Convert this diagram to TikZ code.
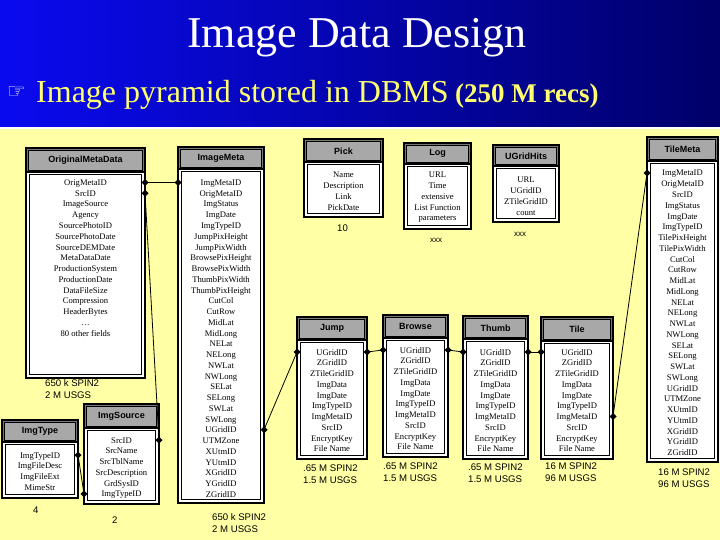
\documentclass[tikz,border=0pt]{standalone}
\usepackage{fontspec}
\setmainfont{Liberation Serif}
\newfontfamily\arialf{Liberation Sans}
\newfontfamily\dejavuf{DejaVu Sans}
\definecolor{hdrL}{RGB}{10,10,240}
\definecolor{hdrR}{RGB}{0,0,105}
\definecolor{bgyellow}{RGB}{255,255,165}
\definecolor{subyellow}{RGB}{255,255,110}
\definecolor{handcol}{RGB}{240,240,230}
\definecolor{titlegray}{RGB}{168,168,168}
\definecolor{framegray}{RGB}{120,120,120}
\tikzset{
  fieldtxt/.style={font=\fontsize{8.6}{10}\selectfont, inner sep=0pt, anchor=base},
  titletxt/.style={font=\arialf\bfseries\fontsize{9}{10}\selectfont, inner sep=0pt},
  cnttxt/.style={font=\arialf\fontsize{9.6}{12}\selectfont, inner sep=0pt, align=left, anchor=west},
  connline/.style={line width=0.8pt, black},
}
\newcommand\connmark[1]{\fill[shift={(#1)}] (-3.5,0) -- (0,-3.5) -- (3.5,0) -- (0,3.5) -- cycle;}
\newcommand\conn[2]{\draw[connline] (#1) -- (#2); \connmark{#1} \connmark{#2}}
% #1 name, #2 x1, #3 y1, #4 x2, #5 title bottom, #6 y2, #7 title, #8 first field y, #9 fields
\newcommand\dbtable[9]{%
  \fill[framegray] (#2,#3) rectangle (#4,#5);
  \draw[fill=titlegray, line width=0.6pt] (#2+2.5,#3+2.5) rectangle (#4-2.5,#5-2);
  \node[titletxt] (#1-title) at ({(#2+#4)/2},{(#3+#5)/2+0.3}) {#7};
  \draw[fill=white, line width=1.3pt] (#2+0.7,#5) rectangle (#4-0.7,#6-0.7);
  \draw[line width=0.45pt] (#2+3.3,#5+2.6) rectangle (#4-3.3,#6-3.3);
  \draw[line width=1.4pt] (#2,#3) rectangle (#4,#6);
  \foreach \f [count=\i] in {#9} {
    \node[fieldtxt] (#1-f\i) at ({(#2+#4)/2},{#8+(\i-1)*10.75+3}) {\f};
    \coordinate (#1-L\i) at (#2,{#8+(\i-1)*10.75});
    \coordinate (#1-R\i) at (#4,{#8+(\i-1)*10.75});
  }
}
\begin{document}
\begin{tikzpicture}[x=1pt,y=-1pt]
\useasboundingbox (0,0) rectangle (720,540);
% header
\shade[left color=hdrL, right color=hdrR] (0,0) rectangle (720,127);
\fill[bgyellow] (0,127) rectangle (720,540);
\draw[white, line width=1.2pt] (0,128) -- (720,128);
\node[text=white, font=\fontsize{44}{44}\selectfont, inner sep=0pt, anchor=base] (title) at (357,48) {Image Data Design};
\node[text=handcol, font=\dejavuf\fontsize{21}{21}\selectfont, inner sep=0pt, anchor=base west] (hand) at (7,99) {☞};
\node[text=subyellow, font=\fontsize{32}{32}\selectfont, inner sep=0pt, anchor=base west] (sub) at (36,103) {Image pyramid stored in DBMS};
\node[text=subyellow, font=\bfseries\fontsize{27}{27}\selectfont, inner sep=0pt, anchor=base west] (recs) at (455,103) {(250 M recs)};

% tables
\dbtable{om}{26}{148}{145}{172}{378}{OriginalMetaData}{182.5}{OrigMetaID,SrcID,ImageSource,Agency,SourcePhotoID,SourcePhotoDate,SourceDEMDate,MetaDataDate,ProductionSystem,ProductionDate,DataFileSize,Compression,HeaderBytes,\dots,80 other fields}
\dbtable{im}{178}{147}{264}{169}{503}{ImageMeta}{182.5}{ImgMetaID,OrigMetaID,ImgStatus,ImgDate,ImgTypeID,JumpPixHeight,JumpPixWidth,BrowsePixHeight,BrowsePixWidth,ThumbPixWidth,ThumbPixHeight,CutCol,CutRow,MidLat,MidLong,NELat,NELong,NWLat,NWLong,SELat,SELong,SWLat,SWLong,UGridID,UTMZone,XUtmID,YUtmID,XGridID,YGridID,ZGridID}
\dbtable{pick}{304}{139}{383}{162}{217}{Pick}{175}{Name,Description,Link,PickDate}
\dbtable{log}{404}{143}{471}{164}{229}{Log}{175}{URL,Time,extensive,List Function,parameters}
\dbtable{ugh}{493}{145}{559}{166}{222}{UGridHits}{180}{URL,UGridID,ZTileGridID,count}
\dbtable{tm}{647}{137}{718}{161}{462}{TileMeta}{173}{ImgMetaID,OrigMetaID,SrcID,ImgStatus,ImgDate,ImgTypeID,TilePixHeight,TilePixWidth,CutCol,CutRow,MidLat,MidLong,NELat,NELong,NWLat,NWLong,SELat,SELong,SWLat,SWLong,UGridID,UTMZone,XUtmID,YUtmID,XGridID,YGridID,ZGridID}
\dbtable{jump}{297}{317}{367}{340}{459}{Jump}{352}{UGridID,ZGridID,ZTileGridID,ImgData,ImgDate,ImgTypeID,ImgMetaID,SrcID,EncryptKey,File Name}
\dbtable{browse}{383}{315}{448}{338}{457}{Browse}{350}{UGridID,ZGridID,ZTileGridID,ImgData,ImgDate,ImgTypeID,ImgMetaID,SrcID,EncryptKey,File Name}
\dbtable{thumb}{463}{316}{528}{339}{459}{Thumb}{352}{UGridID,ZGridID,ZTileGridID,ImgData,ImgDate,ImgTypeID,ImgMetaID,SrcID,EncryptKey,File Name}
\dbtable{tile}{541}{317}{613}{341}{459}{Tile}{352}{UGridID,ZGridID,ZTileGridID,ImgData,ImgDate,ImgTypeID,ImgMetaID,SrcID,EncryptKey,File Name}
\dbtable{isrc}{84}{404}{159}{428}{504}{ImgSource}{440}{SrcID,SrcName,SrcTblName,SrcDescription,GrdSysID,ImgTypeID}
\dbtable{itype}{2}{420}{78}{442}{498}{ImgType}{455}{ImgTypeID,ImgFileDesc,ImgFileExt,MimeStr}

% counts
\node[cnttxt] (c-om) at (45,389) {650 k SPIN2\\2 M USGS};
\node[cnttxt] (c-im) at (212,523) {650 k SPIN2\\2 M USGS};
\node[cnttxt] (c-pick) at (337,228) {10};
\node[cnttxt, font=\arialf\fontsize{8}{9}\selectfont] (c-log) at (430,240) {xxx};
\node[cnttxt, font=\arialf\fontsize{8}{9}\selectfont] (c-ugh) at (514,234) {xxx};
\node[cnttxt] (c-jump) at (303,474) {.65 M SPIN2\\1.5 M USGS};
\node[cnttxt] (c-browse) at (383,472) {.65 M SPIN2\\1.5 M USGS};
\node[cnttxt] (c-thumb) at (468,473) {.65 M SPIN2\\1.5 M USGS};
\node[cnttxt] (c-tile) at (545,472) {16 M SPIN2\\96 M USGS};
\node[cnttxt] (c-tm) at (658,478) {16 M SPIN2\\96 M USGS};
\node[cnttxt] (c-isrc) at (112,520) {2};
\node[cnttxt] (c-itype) at (33,510) {4};

% connectors
\conn{om-R1}{im-L1}
\conn{om-R2}{isrc-R1}
\conn{itype-R1}{isrc-L6}
\conn{im-R24}{jump-L1}
\conn{jump-R1}{browse-L1}
\conn{browse-R1}{thumb-L1}
\conn{thumb-R1}{tile-L1}
\conn{tile-R7}{tm-L1}
\end{tikzpicture}
\end{document}
